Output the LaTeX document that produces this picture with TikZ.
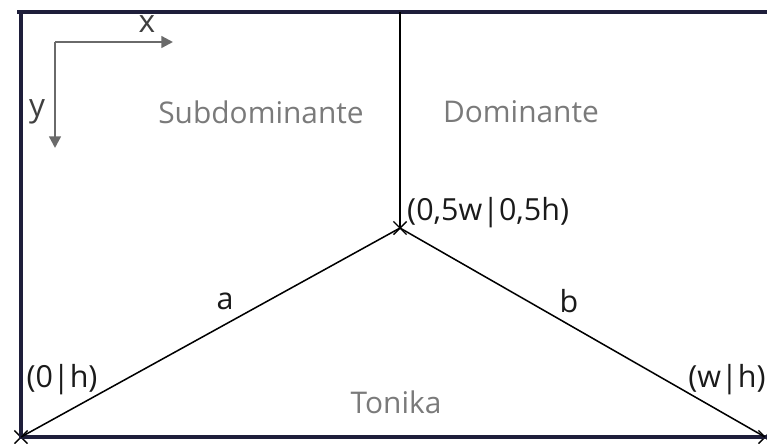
\documentclass[tikz,border=0pt]{standalone}
\usepackage{fontspec}
\setmainfont{Open Sans}
\usepackage{xcolor}
\usepackage{tikz}
\usetikzlibrary{arrows.meta,shapes.misc}

\definecolor{framecol}{HTML}{1E1E3A}
\definecolor{areacol}{HTML}{7A7A7A}
\definecolor{axiscol}{HTML}{6A6A6A}
\definecolor{textcol}{HTML}{1A1A1A}

\begin{document}
\begin{tikzpicture}[x=0.03cm, y=-0.03cm,
  frame/.style={draw=framecol, line width=2.6pt},
  side/.style={draw=black, line width=1.3pt},
  point/.style={cross out, draw=black, line width=1.2pt, minimum size=10pt, inner sep=0pt},
  axis/.style={draw=axiscol, line width=2pt, -{Triangle[length=10pt, width=10pt]}},
  area/.style={text=areacol, font=\fontsize{25.5}{30}\selectfont, inner sep=0pt},
  coord/.style={text=textcol, font=\fontsize{26}{30}\selectfont, inner sep=0pt},
  axislabel/.style={text=axiscol!60!black, font=\fontsize{27}{30}\selectfont, inner sep=0pt}
]
\useasboundingbox (0,0) rectangle (767,443);

% corner points
\coordinate (tl) at (17,12);
\coordinate (tr) at (770,12);
\coordinate (br) at (770,437);
\coordinate (top) at (400,12);
\node[point] (mid) at (400,228) {};
\node[point] (left) at (21,437) {};
\node[point] (right) at (765,437) {};

% frame
\draw[frame] (tl) -- (tr);
\draw[frame] (left.center |- tl) -- (left.center) -- (br);

% dividing lines
\draw[side] (top) -- (mid.center);
\draw[side] (mid.center) -- (left.center);
\draw[side] (mid.center) -- (right.center);
\node[coord] (a) at (225,301) {a};
\node[coord] (b) at (569,301) {b};

% axes
\coordinate (o) at (55,42);
\coordinate (xe) at (173,42);
\coordinate (ye) at (55,148);
\draw[axis] (o) -- (xe);
\draw[axis] (o) -- (ye);
\node[axislabel] (xl) at (147,24) {x};
\node[axislabel] (yl) at (37,112) {y};

% areas
\node[area] (sub) at (261,112) {Subdominante};
\node[area] (dom) at (521,112) {Dominante};
\node[area] (ton) at (396,402) {Tonika};

% coordinates
\node[coord, anchor=west] (pmid) at (407,213) {(0,5w|0,5h)};
\node[coord] (pleft) at (62,380) {(0|h)};
\node[coord] (pright) at (727,380) {(w|h)};
\end{tikzpicture}
\end{document}
